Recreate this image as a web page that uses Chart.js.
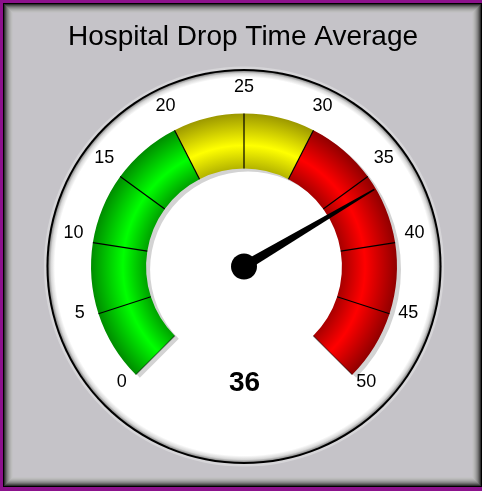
<!DOCTYPE html>
<html><head><meta charset="utf-8">
<script src="https://cdn.jsdelivr.net/npm/chart.js@4.4.1/dist/chart.umd.min.js"></script>
<style>html,body{margin:0;padding:0;background:#c5c3c8;overflow:hidden}canvas{display:block}</style>
</head><body>
<canvas id="c" width="482" height="491"></canvas>
<script>
// ---- data ----
const chartTitle = 'Hospital Drop Time Average';
const zoneNames = ['Normal', 'Caution', 'Critical'];
const zoneLimits = [20, 30, 50];
const tickValues = [0, 5, 10, 15, 20, 25, 30, 35, 40, 45, 50];
const tickLabels = ['0', '5', '10', '15', '20', '25', '30', '35', '40', '45', '50'];
const gaugeMin = 0;
const gaugeValue = 36;

// ---- styles ----
const zoneShades = [
  ['#00a200', '#00ff00', '#008c00'],
  ['#b4b400', '#ffff00', '#9c9800'],
  ['#a80000', '#ff0000', '#900000']
];
const zoneSizes = zoneLimits.map((v, i) => v - (i ? zoneLimits[i - 1] : gaugeMin));
const gaugeMax = zoneLimits[zoneLimits.length - 1];

function geom(chart) {
  const meta = chart.getDatasetMeta(0);
  const ctrl = meta.controller;
  const ca = chart.chartArea;
  return {
    x: (ca.left + ca.right) / 2 + ctrl.offsetX,
    y: (ca.top + ca.bottom) / 2 + ctrl.offsetY,
    r0: ctrl.innerRadius, r1: ctrl.outerRadius
  };
}

function zoneFill(context) {
  const chart = context.chart;
  const s = zoneShades[context.dataIndex] || zoneShades[0];
  if (!chart.chartArea) return s[1];
  const g = geom(chart);
  if (![g.x, g.y, g.r0, g.r1].every(Number.isFinite) || g.r1 <= 0) return s[1];
  const grad = chart.ctx.createRadialGradient(g.x, g.y, g.r0, g.x, g.y, g.r1);
  grad.addColorStop(0, s[0]);
  grad.addColorStop(0.42, s[1]);
  grad.addColorStop(1, s[2]);
  return grad;
}

function valueAngle(meta, v) {
  const a0 = meta.data[0].startAngle;
  const a1 = meta.data[meta.data.length - 1].endAngle;
  return a0 + (v - gaugeMin) / (gaugeMax - gaugeMin) * (a1 - a0);
}

const gaugePlugin = {
  id: 'gauge',
  beforeDraw(chart) {
    const ctx = chart.ctx, W = chart.width, H = chart.height;
    ctx.save();
    ctx.fillStyle = '#c5c3c8';
    ctx.fillRect(0, 0, W, H);
    ctx.fillStyle = '#8c128c';
    ctx.fillRect(0, 0, 3, H);
    ctx.fillRect(0, 0, W, 3);
    ctx.fillRect(0, H - 4, W, 4);
    const shades = ['#000000', '#303030', '#505050', '#6c6c6c', '#848484', '#969696', '#a6a6a6', '#b2b2b2', '#bcbcbc', '#c2c1c4'];
    shades.forEach((c, i) => {
      ctx.strokeStyle = c;
      ctx.lineWidth = 1;
      ctx.strokeRect(3.5 + i, 3.5 + i, (W - 4) - 2 * i, (H - 8) - 2 * i);
    });
    ctx.fillStyle = '#000';
    ctx.font = '28px "Liberation Sans", Arial, sans-serif';
    ctx.textAlign = 'center';
    ctx.textBaseline = 'alphabetic';
    ctx.fillText(chartTitle, 243, 45);
    ctx.restore();
  },
  beforeDatasetsDraw(chart) {
    const ctx = chart.ctx;
    const meta = chart.getDatasetMeta(0);
    const el0 = meta.data[0];
    const cx = el0.x, cy = el0.y, R = el0.outerRadius, r = el0.innerRadius;
    const D = R * 1.288;
    ctx.save();
    ctx.beginPath(); ctx.arc(cx, cy, D + 3, 0, Math.PI * 2); ctx.fillStyle = '#d6d5d8'; ctx.fill();
    ctx.beginPath(); ctx.arc(cx, cy, D + 0.5, 0, Math.PI * 2); ctx.fillStyle = '#000'; ctx.fill();
    const g = ctx.createRadialGradient(cx, cy, D - 8, cx, cy, D - 1.5);
    g.addColorStop(0, '#ffffff');
    g.addColorStop(0.6, '#d8d8d8');
    g.addColorStop(1, '#8c8c8c');
    ctx.beginPath(); ctx.arc(cx, cy, D - 1.5, 0, Math.PI * 2); ctx.fillStyle = g; ctx.fill();
    const a0 = el0.startAngle, a1 = meta.data[meta.data.length - 1].endAngle;
    ctx.beginPath();
    ctx.arc(cx + 4, cy + 3, R, a0, a1);
    ctx.arc(cx + 4, cy + 3, r, a1, a0, true);
    ctx.closePath();
    ctx.fillStyle = '#d3d3d3';
    ctx.fill();
    ctx.restore();
  },
  afterDatasetsDraw(chart) {
    const ctx = chart.ctx;
    const meta = chart.getDatasetMeta(0);
    const el0 = meta.data[0];
    const cx = el0.x, cy = el0.y, R = el0.outerRadius, r = el0.innerRadius;
    ctx.save();
    tickValues.forEach((v, i) => {
      const a = valueAngle(meta, v);
      const c = Math.cos(a), s = Math.sin(a);
      ctx.beginPath();
      ctx.moveTo(cx + c * r, cy + s * r);
      ctx.lineTo(cx + c * R, cy + s * R);
      ctx.strokeStyle = (i === 0 || i === tickValues.length - 1) ? 'rgba(0,0,0,0.45)' : '#000';
      ctx.lineWidth = 1.2;
      ctx.stroke();
    });
    ctx.fillStyle = '#000';
    ctx.font = '18px "Liberation Sans", Arial, sans-serif';
    ctx.textAlign = 'center';
    ctx.textBaseline = 'middle';
    const LR = R * 1.129;
    tickValues.forEach((v, i) => {
      const a = valueAngle(meta, v);
      ctx.fillText(tickLabels[i], cx + Math.cos(a) * LR, cy + Math.sin(a) * LR - 6.5);
    });
    ctx.font = 'bold 28px "Liberation Sans", Arial, sans-serif';
    ctx.fillText(String(gaugeValue), cx + 0.5, cy + R * 0.76);
    const a = valueAngle(meta, gaugeValue);
    const c = Math.cos(a), s = Math.sin(a);
    const px = -s, py = c;
    const len = R * 0.99, bw = 5, tw = 0.8;
    ctx.beginPath();
    ctx.moveTo(cx + px * bw, cy + py * bw);
    ctx.lineTo(cx + c * len + px * tw, cy + s * len + py * tw);
    ctx.lineTo(cx + c * len - px * tw, cy + s * len - py * tw);
    ctx.lineTo(cx - px * bw, cy - py * bw);
    ctx.closePath();
    ctx.fillStyle = '#000';
    ctx.fill();
    ctx.beginPath();
    ctx.arc(cx, cy, 13, 0, Math.PI * 2);
    ctx.fill();
    ctx.restore();
  }
};

new Chart(document.getElementById('c'), {
  type: 'doughnut',
  data: {
    labels: zoneNames,
    datasets: [{
      data: zoneSizes,
      backgroundColor: zoneFill,
      borderWidth: 0,
      hoverOffset: 0
    }]
  },
  options: {
    responsive: false,
    animation: false,
    events: [],
    rotation: -135,
    circumference: 270,
    radius: 153,
    cutout: '64%',
    layout: { padding: { left: 6, right: 0, top: 0, bottom: 2.8 } },
    plugins: { legend: { display: false }, tooltip: { enabled: false }, title: { display: false } }
  },
  plugins: [gaugePlugin]
});
</script>
</body></html>
